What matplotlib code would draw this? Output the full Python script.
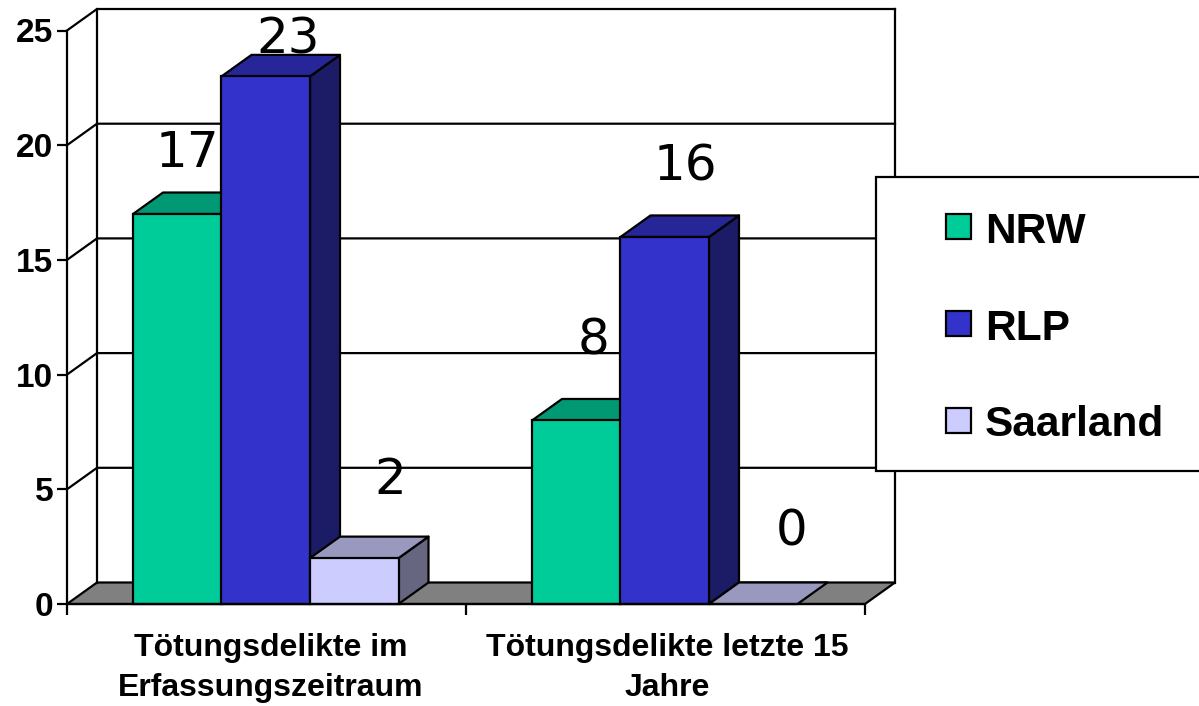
from __future__ import annotations

import matplotlib.pyplot as plt
from matplotlib.patches import Polygon, Rectangle
from matplotlib.ticker import FixedLocator, NullFormatter

plt.rcParams["font.family"] = ["Liberation Sans", "DejaVu Sans"]

categories = ["Tötungsdelikte im\nErfassungszeitraum", "Tötungsdelikte letzte 15\nJahre"]
series_names = ["NRW", "RLP", "Saarland"]
nrw = [17, 8]
rlp = [23, 16]
saarland = [2, 0]
y_ticks = [0, 5, 10, 15, 20, 25]

# front, top, side
colors = {
    "NRW": ("#00CC99", "#009973", "#006B50"),
    "RLP": ("#3333CC", "#262699", "#1B1B66"),
    "Saarland": ("#CCCCFF", "#9999BF", "#666680"),
}

W, H = 1199, 706
X0, X1, Y0, Y25 = 67, 865, 604, 30.5
DX = 30 / 399  # 3d depth in data units
DY = 21.5 / 22.94
BAR_W = 88.5 / 399
GROUP_PAD = 66 / 399
LW = 1.6

# label offsets in px from the front top centre of each bar, same order as the series
label_offsets = {
    "NRW": [(10, 47), (17, 66)],
    "RLP": [(22, 23), (21, 56)],
    "Saarland": [(36, 64), (38, 59)],
}


def poly(ax, pts, color, z):
    ax.add_patch(Polygon(pts, closed=True, facecolor=color, edgecolor="black", lw=LW,
                         joinstyle="round", clip_on=False, zorder=z))


def draw_bar(ax, x, v, name, z):
    front, top, side = colors[name]
    w = BAR_W
    if v > 0:
        poly(ax, [(x + w, 0), (x + w + DX, DY), (x + w + DX, v + DY), (x + w, v)], side, z)
    poly(ax, [(x, v), (x + DX, v + DY), (x + w + DX, v + DY), (x + w, v)], top, z)
    if v > 0:
        ax.add_patch(Rectangle((x, 0), w, v, facecolor=front, edgecolor="black", lw=LW,
                               clip_on=False, zorder=z))


fig = plt.figure(figsize=(W / 100, H / 100), dpi=100)
ax = fig.add_axes([X0 / W, 1 - Y0 / H, (X1 - X0) / W, (Y0 - Y25) / H])
ax.set_xlim(0, 2)
ax.set_ylim(0, 25)

# walls and floor
poly(ax, [(0, 0), (DX, DY), (2 + DX, DY), (2, 0)], "#808080", 1)
ax.plot([DX, DX], [DY, 25 + DY], color="black", lw=LW, clip_on=False, zorder=1)
ax.plot([2 + DX, 2 + DX], [DY, 25 + DY], color="black", lw=LW, clip_on=False, zorder=1)
for t in y_ticks[1:]:
    ax.plot([0, DX, 2 + DX], [t, t + DY, t + DY], color="black", lw=LW, clip_on=False, zorder=1)

for name, vals in zip(series_names, [nrw, rlp, saarland]):
    k = series_names.index(name)
    for g, v in enumerate(vals):
        x = g + GROUP_PAD + k * BAR_W
        draw_bar(ax, x, v, name, 3 + g * 3 + k)
        ox, oy = label_offsets[name][g]
        ax.annotate(str(v), (x + BAR_W / 2, v), xytext=(ox * 0.72, oy * 0.72),
                    textcoords="offset points", ha="center", va="baseline",
                    fontsize=36, family="DejaVu Sans", color="black",
                    annotation_clip=False, zorder=20)

for s in ["top", "right"]:
    ax.spines[s].set_visible(False)
for s in ["left", "bottom"]:
    ax.spines[s].set_linewidth(LW)
    ax.spines[s].set_zorder(15)

ax.set_yticks(y_ticks)
ax.set_yticklabels([str(t) for t in y_ticks], fontsize=24, fontweight="bold")
ax.tick_params(axis="y", length=7, width=LW, pad=3)

ax.xaxis.set_major_locator(FixedLocator([0, 1, 2]))
ax.xaxis.set_major_formatter(NullFormatter())
ax.xaxis.set_minor_locator(FixedLocator([0.51, 1.505]))
ax.set_xticklabels(categories, minor=True, fontsize=23, fontweight="bold", linespacing=1.44)
ax.tick_params(axis="x", which="major", length=8, width=LW)
ax.tick_params(axis="x", which="minor", length=0, pad=21)

# legend box runs off the right edge of the picture
fig.add_artist(Rectangle((876 / W, 1 - 471 / H), 340 / W, 294 / H, transform=fig.transFigure,
                         facecolor="white", edgecolor="black", lw=LW, zorder=30))
for i, name in enumerate(series_names):
    yc = 227 + i * 97
    fig.add_artist(Rectangle((946 / W, 1 - (yc + 12) / H), 25 / W, 25 / H, transform=fig.transFigure,
                             facecolor=colors[name][0], edgecolor="black", lw=LW, zorder=31))
    fig.text(985 / W, 1 - yc / H, name, fontsize=30.5, fontweight="bold", va="center_baseline",
             ha="left", zorder=31)

fig.savefig("out.png", dpi=100)
